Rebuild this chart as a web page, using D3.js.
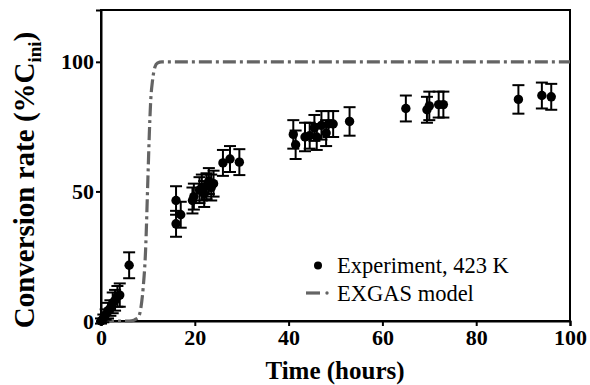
<!DOCTYPE html>
<html><head><meta charset="utf-8">
<script src="https://cdn.jsdelivr.net/npm/d3@7"></script>
<style>body{margin:0;background:#fff}svg{display:block} text{font-family:"Liberation Serif","Times New Roman",Times,serif}</style>
</head><body>
<svg id="chart" width="590" height="385"></svg>
<script>
// Experimental data: time (h), conversion (%), error (+/-)
const expTime = [0,0.5,1,1.5,2,2.5,3,3.5,4,6,16,16,17,19.5,19.8,21,21.5,22,22.5,23,23.5,24,26,27.5,29.5,41,41.5,43.5,44.5,45.5,46,47,48,48.5,49.5,53,65,69.5,70,72,73,89,94,96];
const expConv = [0,1,2.5,4,5,7,8,9.5,10,21.5,46.5,37.5,41,46.5,48,50.5,51.5,49,52,54,51.5,53,61,62.5,61.3,72,68,71,71.5,74.5,71,75.5,72.5,76,76,77,82,81.5,83,83.5,83.5,85.5,87,86.5];
const expErr  = [1,1.5,2,3,3,4,4,4,4.5,5,5.5,5,5,5,5,5,5,5,5,5,5,5,5,5,5,5.5,5.5,5.5,5,5,5,5.5,5,5,5,5.5,5,5,5.5,5,5,5.5,5,5];
// EXGAS model curve
const modelTime = [0,2,4,6,7,7.5,8,8.5,9,9.5,10,10.3,10.6,11,11.5,12,13,20,40,60,80,100];
const modelConv = [0,0,0,0,0.3,0.8,1.5,5,13,27,55,72,85,93,98,99.5,100,100,100,100,100,100];
const xTicks = [0,20,40,60,80,100];
const yTicks = [0,50,100];

const svg = d3.select("#chart");
const L=101, R=570, T=10, B=321;
const x = d3.scaleLinear().domain([0,100]).range([L,R]);
const y = d3.scaleLinear().domain([0,120]).range([B,T]);
const serif = '"Liberation Serif","Times New Roman",Times,serif';

// frame
svg.append("rect").attr("x",L).attr("y",T).attr("width",R-L).attr("height",B-T)
  .attr("fill","none").attr("stroke","#000").attr("stroke-width",2);

const xAxis = svg.append("g").attr("transform",`translate(0,${B})`)
  .call(d3.axisBottom(x).tickValues(xTicks).tickSize(5).tickPadding(3).tickFormat(d3.format("d")));
const yAxis = svg.append("g").attr("transform",`translate(${L},0)`)
  .call(d3.axisLeft(y).tickValues(yTicks).tickSize(5).tickPadding(2).tickFormat(d3.format("d")));
[xAxis,yAxis].forEach(g=>{
  g.attr("font-family",serif).attr("font-size",22).attr("font-weight","bold");
  g.select(".domain").attr("stroke","#000").attr("stroke-width",2);
  g.selectAll(".tick line").attr("stroke","#000").attr("stroke-width",2);
  g.selectAll(".tick text").attr("fill","#000");
});

// model line
const line = d3.line().x((d,i)=>x(modelTime[i])).y((d,i)=>y(modelConv[i])).curve(d3.curveMonotoneX);
svg.append("path").datum(modelTime).attr("d",line).attr("fill","none")
  .attr("stroke","#646464").attr("stroke-width",3.2).attr("stroke-dasharray","13,4,3,4");

// error bars
const g = svg.append("g");
const idx = d3.range(expTime.length);
g.selectAll("line.v").data(idx).join("line")
  .attr("x1",i=>x(expTime[i])).attr("x2",i=>x(expTime[i]))
  .attr("y1",i=>y(expConv[i]-expErr[i])).attr("y2",i=>y(expConv[i]+expErr[i]))
  .attr("stroke","#000").attr("stroke-width",2);
[-1,1].forEach(s=>{
  g.append("g").selectAll("line").data(idx).join("line")
   .attr("x1",i=>x(expTime[i])-6).attr("x2",i=>x(expTime[i])+6)
   .attr("y1",i=>y(expConv[i]+s*expErr[i])).attr("y2",i=>y(expConv[i]+s*expErr[i]))
   .attr("stroke","#000").attr("stroke-width",2);
});
g.selectAll("circle").data(idx).join("circle")
  .attr("cx",i=>x(expTime[i])).attr("cy",i=>y(expConv[i])).attr("r",4.7).attr("fill","#000");

// axis titles
svg.append("text").attr("x",335).attr("y",379).attr("text-anchor","middle")
  .attr("font-family",serif).attr("font-weight","bold").attr("font-size",25).text("Time (hours)");
const yt = svg.append("text").attr("transform","translate(34,180) rotate(-90)").attr("text-anchor","middle")
  .attr("font-family",serif).attr("font-weight","bold").attr("font-size",29);
yt.append("tspan").text("Conversion rate (%C");
yt.append("tspan").attr("dy",7).attr("font-size",19).text("ini");
yt.append("tspan").attr("dy",-7).text(")");

// legend
const lg = svg.append("g").attr("font-family",serif).attr("font-size",22.5);
lg.append("circle").attr("cx",318).attr("cy",265.5).attr("r",4).attr("fill","#000");
lg.append("text").attr("x",337).attr("y",273).text("Experiment, 423 K");
lg.append("line").attr("x1",306).attr("x2",320).attr("y1",293).attr("y2",293).attr("stroke","#646464").attr("stroke-width",3.2);
lg.append("circle").attr("cx",327).attr("cy",293).attr("r",1.7).attr("fill","#646464");
lg.append("text").attr("x",337).attr("y",301).text("EXGAS model");
</script>
</body></html>
